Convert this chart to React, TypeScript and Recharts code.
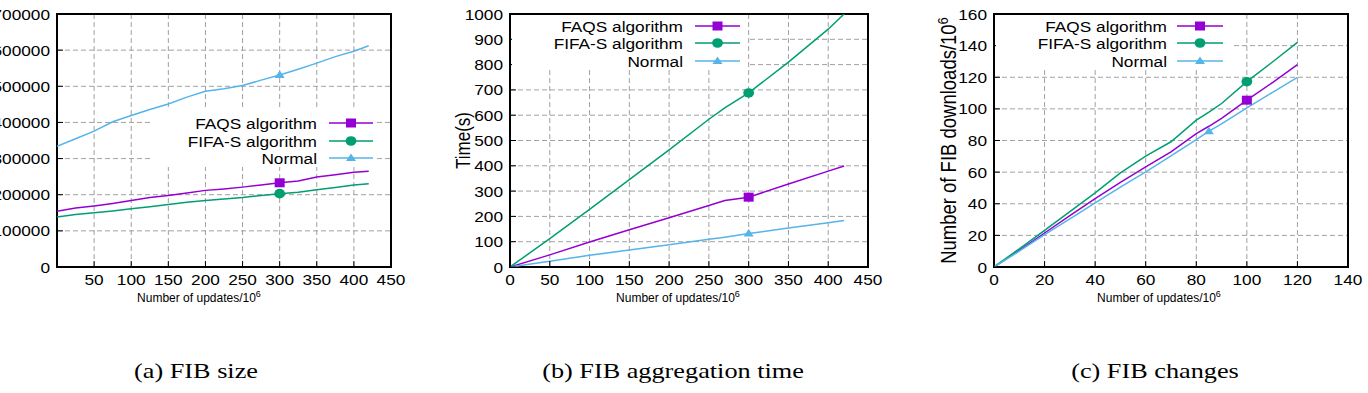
import React from 'react'
import {
  LineChart,
  Line,
  XAxis,
  YAxis,
  CartesianGrid,
  ReferenceArea,
  Legend,
} from 'recharts'

// gnuplot default palette
const FAQS_COLOR = '#9400d3'
const FIFA_COLOR = '#009e73'
const NORMAL_COLOR = '#56b4e9'
const SANS = '"Liberation Sans", Arial, Helvetica, sans-serif'
const SERIF = '"Liberation Serif", "Times New Roman", serif'
const STRETCH = 1.15

const seriesNames = ['FAQS algorithm', 'FIFA-S algorithm', 'Normal']

// (a) FIB size
const sizeUpdates = [0, 25, 50, 75, 100, 125, 150, 175, 200, 225, 250, 275, 300, 325, 350, 375, 400, 420]
const sizeFaqs = [154000, 163000, 169000, 176000, 184000, 192000, 198000, 205000, 212000, 216000, 221000, 227000, 233000, 238000, 249000, 255000, 262000, 265000]
const sizeFifa = [138000, 145000, 150000, 155000, 161000, 167000, 173000, 179000, 184000, 188000, 192000, 198000, 203000, 207000, 214000, 220000, 227000, 230000]
const sizeNormal = [334000, 355000, 376000, 402000, 419000, 436000, 451000, 470000, 486000, 493000, 502000, 517000, 531000, 547000, 564000, 582000, 597000, 612000]
const sizeXTicks = [50, 100, 150, 200, 250, 300, 350, 400, 450]
const sizeYTicks = [0, 100000, 200000, 300000, 400000, 500000, 600000, 700000]

// (b) FIB aggregation time
const timeUpdates = [0, 50, 100, 150, 200, 250, 270, 300, 350, 400, 420]
const timeFaqs = [0, 48, 99, 147, 195, 243, 263, 276, 328, 379, 399]
const timeFifa = [0, 112, 228, 345, 463, 584, 629, 688, 810, 940, 1000]
const timeNormal = [0, 23, 46, 67, 88, 110, 118, 132, 154, 175, 184]
const timeXTicks = [0, 50, 100, 150, 200, 250, 300, 350, 400, 450]
const timeYTicks = [0, 100, 200, 300, 400, 500, 600, 700, 800, 900, 1000]

// (c) FIB changes
const changeUpdates = [0, 10, 20, 30, 40, 50, 60, 70, 80, 85, 90, 100, 110, 120]
const changeFaqs = [0, 10.5, 21.5, 32.5, 43.3, 53.5, 63.3, 72.8, 84.4, 89, 94, 105.5, 116.5, 128]
const changeFifa = [0, 11.5, 23.2, 35, 46.9, 59.5, 70.1, 79.2, 92.9, 98, 103.4, 117.2, 129.5, 142]
const changeNormal = [0, 10, 20.5, 30.5, 40.5, 50.5, 60.2, 70.3, 80.6, 85.9, 90.5, 100.7, 110.3, 119.9]
const changeXTicks = [0, 20, 40, 60, 80, 100, 120, 140]
const changeYTicks = [0, 20, 40, 60, 80, 100, 120, 140, 160]

const captions = ['(a) FIB size', '(b) FIB aggregation time', '(c) FIB changes']

type Row = { x: number; faqs: number; fifa: number; normal: number }
type Shape = 'square' | 'circle' | 'triangle'

const toRows = (xs: number[], faqs: number[], fifa: number[], normal: number[]): Row[] =>
  xs.map((x, i) => ({ x, faqs: faqs[i], fifa: fifa[i], normal: normal[i] }))

const series: { key: keyof Row; color: string; shape: Shape }[] = [
  { key: 'faqs', color: FAQS_COLOR, shape: 'square' },
  { key: 'fifa', color: FIFA_COLOR, shape: 'circle' },
  { key: 'normal', color: NORMAL_COLOR, shape: 'triangle' },
]

function Marker({ shape, color, x, y }: { shape: Shape; color: string; x: number; y: number }) {
  if (shape === 'square') return <rect x={x - 5} y={y - 4.5} width={10} height={9} fill={color} />
  if (shape === 'circle') return <ellipse cx={x} cy={y} rx={5.4} ry={4.8} fill={color} />
  return <polygon points={`${x},${y - 4.5} ${x + 5},${y + 3} ${x - 5},${y + 3}`} fill={color} />
}

// gnuplot pointinterval: one symbol per curve
const markerDot = (shape: Shape, color: string, at: number) => (props: any) => {
  const { cx, cy, payload, index } = props
  if (payload.x !== at) return <g key={index} />
  return <Marker key={index} shape={shape} color={color} x={cx} y={cy} />
}

const tickText = (x: number, y: number, value: any, anchor: 'start' | 'middle' | 'end') => (
  <text
    transform={`translate(${x},${y}) scale(${STRETCH},1)`}
    textAnchor={anchor}
    fontSize={15}
    fontFamily={SANS}
    fill="#000"
  >
    {value}
  </text>
)

const BottomTick = (props: any) => {
  const { x, y, payload } = props
  return (
    <g>
      <line x1={x} x2={x} y1={y} y2={y - 6} stroke="#000" />
      {tickText(x, y + 18, payload.value, 'middle')}
    </g>
  )
}

const TopTick = (props: any) => {
  const { x, y } = props
  return <line x1={x} x2={x} y1={y} y2={y + 6} stroke="#000" />
}

const LeftTick = (props: any) => {
  const { x, y, payload } = props
  return (
    <g>
      <line x1={x} x2={x + 6} y1={y} y2={y} stroke="#000" />
      {tickText(x - 7, y + 5.5, payload.value, 'end')}
    </g>
  )
}

const RightTick = (props: any) => {
  const { x, y } = props
  return <line x1={x} x2={x - 6} y1={y} y2={y} stroke="#000" />
}

const xTitle = (dx: number) => (props: any) => {
  const vb = props.viewBox
  return (
    <text x={vb.x + vb.width / 2 + dx} y={vb.y + 35} textAnchor="middle" fontSize={12} fontFamily={SANS} fill="#000">
      <tspan>Number of updates/10</tspan>
      <tspan dy={-5} fontSize={9}>6</tspan>
    </text>
  )
}

const yTitle = (text: string, sup: string, dx: number, size: number) => (props: any) => {
  const vb = props.viewBox
  const cx = vb.x + vb.width + dx
  const cy = vb.y + vb.height / 2
  return (
    <text
      transform={`translate(${cx},${cy}) scale(${STRETCH},1) rotate(-90)`}
      textAnchor="middle"
      dy="0.35em"
      fontSize={size}
      fontFamily={SANS}
      fill="#000"
    >
      <tspan>{text}</tspan>
      {sup && <tspan dy={-7} fontSize={size * 0.7}>{sup}</tspan>}
    </text>
  )
}

type KeyLayout = { left: number; top: number; width: number; height: number; textRight: number; lineFrom: number; lineTo: number; rows: number[] }

function KeyBox({ k }: { k: KeyLayout }) {
  const mid = (k.lineFrom + k.lineTo) / 2
  return (
    <svg width={k.width} height={k.height} style={{ display: 'block' }}>
      <rect width={k.width} height={k.height} fill="#fff" />
      {series.map((s, i) => (
        <g key={s.key}>
          {tickText(k.textRight, k.rows[i] + 5.5, seriesNames[i], 'end')}
          <line x1={k.lineFrom} x2={k.lineTo} y1={k.rows[i]} y2={k.rows[i]} stroke={s.color} strokeWidth={1.5} />
          <Marker shape={s.shape} color={s.color} x={mid} y={k.rows[i]} />
        </g>
      ))}
    </svg>
  )
}

type PanelProps = {
  left: number
  width: number
  axisWidth: number
  plotWidth: number
  data: Row[]
  xDomain: [number, number]
  xTicks: number[]
  yDomain: [number, number]
  yTicks: number[]
  marks: number[]
  keyLayout: KeyLayout
  yLabel?: (props: any) => React.ReactNode
  titleShift: number
}

function Panel(p: PanelProps) {
  return (
    <div style={{ position: 'absolute', left: p.left, top: 0 }}>
      <LineChart
        width={p.width}
        height={310}
        data={p.data}
        margin={{ top: 14, right: p.width - p.axisWidth - p.plotWidth, bottom: 0, left: 0 }}
      >
        <CartesianGrid stroke="#a0a0a0" strokeDasharray="5 3" />
        <XAxis
          dataKey="x"
          type="number"
          domain={p.xDomain}
          ticks={p.xTicks}
          interval={0}
          height={43}
          tickSize={0}
          tickMargin={0}
          tickLine={false}
          axisLine={false}
          tick={<BottomTick />}
          allowDataOverflow
          label={xTitle(p.titleShift)}
        />
        <XAxis
          xAxisId="top"
          orientation="top"
          type="number"
          domain={p.xDomain}
          ticks={p.xTicks}
          interval={0}
          height={0}
          tickSize={0}
          tickMargin={0}
          tickLine={false}
          axisLine={false}
          tick={<TopTick />}
          allowDataOverflow
        />
        <YAxis
          type="number"
          domain={p.yDomain}
          ticks={p.yTicks}
          interval={0}
          width={p.axisWidth}
          tickSize={0}
          tickMargin={0}
          tickLine={false}
          axisLine={false}
          tick={<LeftTick />}
          allowDataOverflow
          label={p.yLabel}
        />
        <YAxis
          yAxisId="right"
          orientation="right"
          type="number"
          domain={p.yDomain}
          ticks={p.yTicks}
          interval={0}
          width={0}
          tickSize={0}
          tickMargin={0}
          tickLine={false}
          axisLine={false}
          tick={<RightTick />}
          allowDataOverflow
        />
        <Legend
          layout="vertical"
          align="center"
          verticalAlign="middle"
          wrapperStyle={{
            position: 'absolute',
            left: p.keyLayout.left,
            top: p.keyLayout.top,
            width: p.keyLayout.width,
            height: p.keyLayout.height,
          }}
          content={() => <KeyBox k={p.keyLayout} />}
        />
        {series.map((s, i) => (
          <Line
            key={s.key}
            type="linear"
            dataKey={s.key}
            name={seriesNames[i]}
            stroke={s.color}
            strokeWidth={1.5}
            dot={markerDot(s.shape, s.color, p.marks[i])}
            activeDot={false}
            isAnimationActive={false}
          />
        ))}
        <ReferenceArea
          x1={p.xDomain[0]}
          x2={p.xDomain[1]}
          y1={p.yDomain[0]}
          y2={p.yDomain[1]}
          fill="none"
          stroke="#000"
          strokeWidth={2}
          ifOverflow="visible"
        />
      </LineChart>
    </div>
  )
}

const captionStyle = (center: number): React.CSSProperties => ({
  position: 'absolute',
  left: center - 200,
  width: 400,
  top: 359,
  textAlign: 'center',
  fontFamily: SERIF,
  fontSize: 21,
  lineHeight: '24px',
  color: '#000',
  transform: 'scaleX(1.25)',
})

export default function App() {
  return (
    <div style={{ position: 'absolute', left: 0, top: 0, width: 1368, height: 393, overflow: 'hidden', background: '#fff' }}>
      <Panel
        left={-50}
        width={480}
        axisWidth={107}
        plotWidth={334}
        data={toRows(sizeUpdates, sizeFaqs, sizeFifa, sizeNormal)}
        xDomain={[0, 450]}
        xTicks={sizeXTicks}
        yDomain={[0, 700000]}
        yTicks={sizeYTicks}
        marks={[300, 300, 300]}
        keyLayout={{ left: 200, top: 110, width: 226, height: 57, textRight: 167, lineFrom: 179, lineTo: 223, rows: [13, 31, 48] }}
        titleShift={-25}
      />
      <Panel
        left={440}
        width={470}
        axisWidth={70}
        plotWidth={358}
        data={toRows(timeUpdates, timeFaqs, timeFifa, timeNormal)}
        xDomain={[0, 450]}
        xTicks={timeXTicks}
        yDomain={[0, 1000]}
        yTicks={timeYTicks}
        marks={[300, 300, 300]}
        keyLayout={{ left: 72, top: 15, width: 236, height: 55, textRight: 171, lineFrom: 183, lineTo: 228, rows: [11, 28, 46] }}
        yLabel={yTitle('Time(s)', '', -47, 17)}
        titleShift={-11}
      />
      <Panel
        left={920}
        width={446}
        axisWidth={74}
        plotWidth={354}
        data={toRows(changeUpdates, changeFaqs, changeFifa, changeNormal)}
        xDomain={[0, 140]}
        xTicks={changeXTicks}
        yDomain={[0, 160]}
        yTicks={changeYTicks}
        marks={[100, 100, 85]}
        keyLayout={{ left: 76, top: 15, width: 238, height: 55, textRight: 171, lineFrom: 181, lineTo: 227, rows: [11, 28, 46] }}
        yLabel={yTitle('Number of FIB downloads/10', '6', -45, 18.5)}
        titleShift={-12}
      />
      <div style={captionStyle(196)}>{captions[0]}</div>
      <div style={captionStyle(673)}>{captions[1]}</div>
      <div style={captionStyle(1155)}>{captions[2]}</div>
    </div>
  )
}
